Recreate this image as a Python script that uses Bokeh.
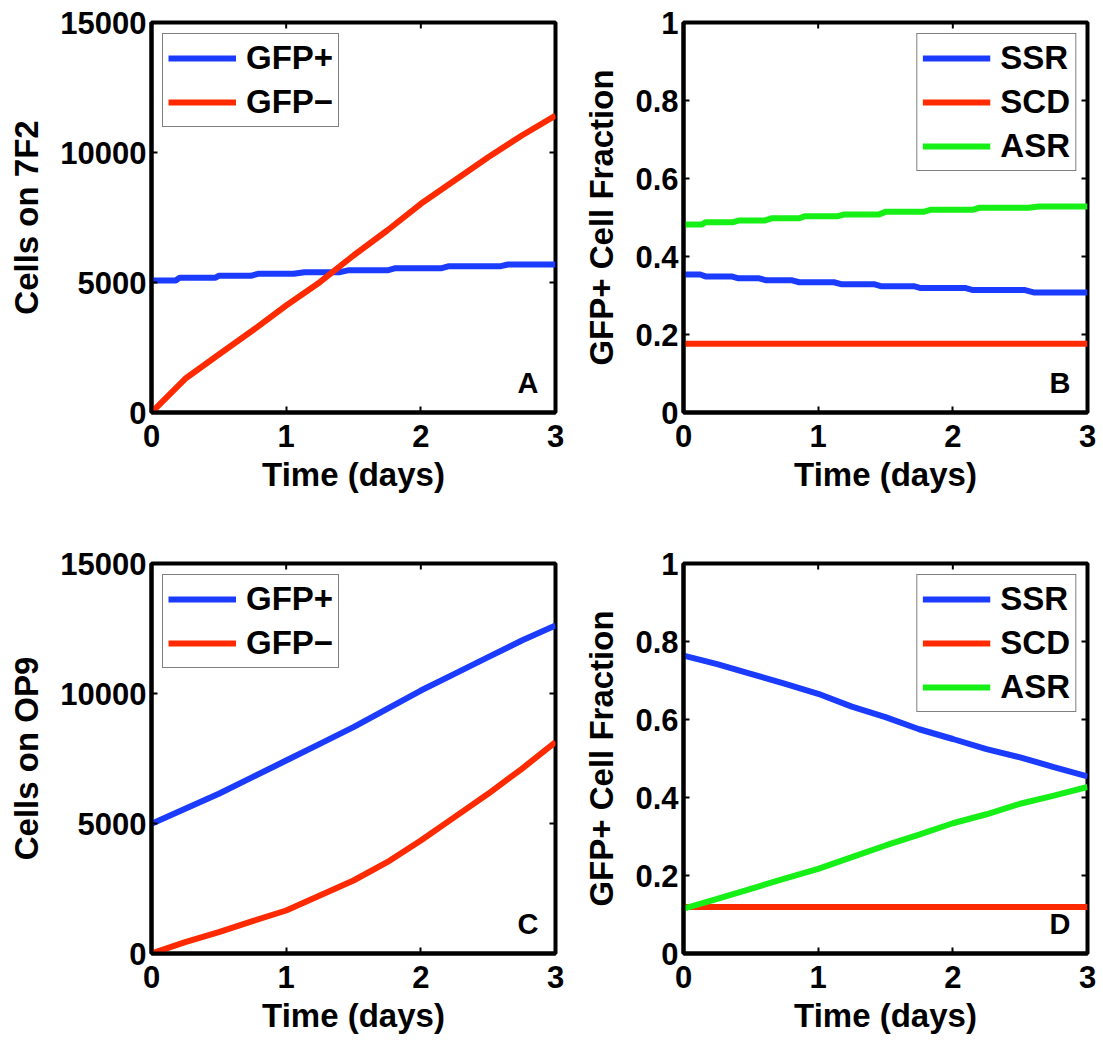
import math
from bokeh.plotting import figure
from bokeh.layouts import gridplot
from bokeh.models import Range1d, Legend, LegendItem, Label, FixedTicker
from bokeh.embed import file_html
from bokeh.resources import INLINE

FONT = "Liberation Sans"
BLUE = "#1b3bff"
RED = "#ff2a00"
GREEN = "#16f016"

# ---------------- data ----------------
x_ticks = [0, 1, 2, 3]
x_tick_labels = ["0", "1", "2", "3"]
count_ticks = [0, 5000, 10000, 15000]
count_tick_labels = ["0", "5000", "10000", "15000"]
frac_ticks = [0, 0.2, 0.4, 0.6, 0.8, 1.0]
frac_tick_labels = ["0", "0.2", "0.4", "0.6", "0.8", "1"]

# Panel A (7F2)
a_pos_t = [0, 0.18, 0.207, 0.472, 0.499, 0.737, 0.79, 1.056, 1.135, 1.40, 1.467, 1.759,
           1.812, 2.156, 2.209, 2.594, 2.647, 3.0]
a_pos = [5077, 5077, 5180, 5180, 5257, 5257, 5335, 5335, 5397, 5397, 5474, 5474,
         5551, 5551, 5628, 5628, 5692, 5692]
a_neg_t = [0, 0.25, 0.5, 0.75, 1.0, 1.25, 1.5, 1.75, 2.0, 2.25, 2.5, 2.75, 3.0]
a_neg = [0, 1296, 2231, 3154, 4115, 5013, 6038, 7000, 8026, 8923, 9820, 10654, 11423]

# Panel B (7F2 fractions)
b_ssr_t = [0, 0.124, 0.163, 0.356, 0.408, 0.562, 0.614, 0.807, 0.859, 1.117, 1.169, 1.414,
           1.465, 1.71, 1.762, 2.097, 2.149, 2.536, 2.6, 3.0]
b_ssr = [0.354, 0.354, 0.349, 0.349, 0.344, 0.344, 0.339, 0.339, 0.334, 0.334, 0.329, 0.329,
         0.324, 0.324, 0.319, 0.319, 0.314, 0.314, 0.308, 0.308]
b_scd_t = [0, 3.0]
b_scd = [0.176, 0.176]
b_asr_t = [0, 0.137, 0.163, 0.369, 0.408, 0.601, 0.653, 0.859, 0.898, 1.143, 1.194, 1.452,
           1.504, 1.788, 1.839, 2.149, 2.2, 2.561, 2.639, 3.0]
b_asr = [0.482, 0.482, 0.488, 0.488, 0.492, 0.492, 0.498, 0.498, 0.503, 0.503, 0.508, 0.508,
         0.515, 0.515, 0.520, 0.520, 0.525, 0.525, 0.528, 0.528]

# Panel C (OP9)
c_t = [0, 0.25, 0.5, 0.75, 1.0, 1.25, 1.5, 1.75, 2.0, 2.25, 2.5, 2.75, 3.0]
c_pos = [4988, 5565, 6142, 6782, 7423, 8064, 8705, 9410, 10115, 10756, 11397, 12038, 12615]
c_neg = [0, 436, 820, 1244, 1654, 2231, 2808, 3513, 4346, 5244, 6142, 7104, 8128]

# Panel D (OP9 fractions)
d_t = [0, 0.25, 0.5, 0.75, 1.0, 1.25, 1.5, 1.75, 2.0, 2.25, 2.5, 2.75, 3.0]
d_ssr = [0.764, 0.742, 0.717, 0.692, 0.666, 0.633, 0.606, 0.575, 0.550, 0.524, 0.503, 0.478, 0.454]
d_scd_t = [0, 3.0]
d_scd = [0.119, 0.119]
d_asr = [0.115, 0.140, 0.166, 0.192, 0.217, 0.247, 0.277, 0.305, 0.334, 0.357, 0.384, 0.405, 0.427]

xlabel = "Time (days)"
panel_letters = ["A", "B", "C", "D"]


def style_axis(ax):
    ax.axis_line_width = 4
    ax.axis_line_color = "black"
    ax.major_tick_in = 6
    ax.major_tick_out = 0
    ax.major_tick_line_width = 2
    ax.major_tick_line_color = "black"
    ax.minor_tick_line_color = None
    ax.major_label_text_font = FONT
    ax.major_label_text_font_style = "bold"
    ax.major_label_text_font_size = "31px"
    ax.major_label_text_color = "black"
    ax.axis_label_text_font = FONT
    ax.axis_label_text_font_style = "bold"
    ax.axis_label_text_font_size = "33px"
    ax.axis_label_text_color = "black"


def make_panel(ylabel, yr, yticks, ytick_labels, series, letter, legend_loc, borders):
    left, right, top, bottom = borders
    p = figure(frame_width=404, frame_height=390,
               x_range=Range1d(0, 3), y_range=Range1d(*yr),
               output_backend="svg", toolbar_location=None,
               min_border_left=left, min_border_right=right,
               min_border_top=top, min_border_bottom=bottom)
    p.xgrid.visible = False
    p.ygrid.visible = False
    p.outline_line_color = "black"
    p.outline_line_width = 4
    p.outline_line_alpha = 1
    p.background_fill_color = "white"
    p.border_fill_color = "white"

    p.xaxis.ticker = FixedTicker(ticks=x_ticks)
    p.xaxis.major_label_overrides = dict(zip(x_ticks, x_tick_labels))
    p.yaxis.ticker = FixedTicker(ticks=yticks)
    p.yaxis.major_label_overrides = dict(zip(yticks, ytick_labels))
    p.xaxis.axis_label = xlabel
    p.yaxis.axis_label = ylabel
    style_axis(p.xaxis[0])
    style_axis(p.yaxis[0])
    p.xaxis.major_label_standoff = 12
    p.xaxis.axis_label_standoff = 6
    p.yaxis.major_label_standoff = 5
    p.yaxis.axis_label_standoff = 12

    # mirrored inward ticks on top and right edges (box on)
    p.ray(x=x_ticks, y=[yr[1]] * len(x_ticks), length=6, length_units="screen",
          angle=-math.pi / 2, line_color="black", line_width=2)
    p.ray(x=[x_ticks[-1]] * len(yticks), y=yticks, length=6, length_units="screen",
          angle=math.pi, line_color="black", line_width=2)

    items = []
    for name, xs, ys, color in series:
        r = p.line(xs, ys, line_color=color, line_width=6)
        items.append(LegendItem(label=name, renderers=[r]))

    legend = Legend(items=items, location=legend_loc,
                    border_line_color="black", border_line_width=1,
                    background_fill_color="white", background_fill_alpha=1,
                    margin=11, padding=5, spacing=6,
                    glyph_width=68, glyph_height=30, label_height=30,
                    label_standoff=10,
                    label_text_font=FONT, label_text_font_style="bold",
                    label_text_font_size="33px", label_text_color="black")
    p.add_layout(legend)

    p.add_layout(Label(x=3, y=yr[0], x_offset=-17, y_offset=14, text=letter,
                       text_align="right", text_baseline="bottom",
                       text_font=FONT, text_font_style="bold",
                       text_font_size="29px", text_color="black"))
    return p


pa = make_panel("Cells on 7F2", (0, 15000), count_ticks, count_tick_labels,
                [("GFP+", a_pos_t, a_pos, BLUE), ("GFP\u2212", a_neg_t, a_neg, RED)],
                panel_letters[0], "top_left", (151, 16, 22, 100))
pb = make_panel("GFP+ Cell Fraction", (0, 1), frac_ticks, frac_tick_labels,
                [("SSR", b_ssr_t, b_ssr, BLUE), ("SCD", b_scd_t, b_scd, RED),
                 ("ASR", b_asr_t, b_asr, GREEN)],
                panel_letters[1], "top_right", (112, 16, 22, 100))
pc = make_panel("Cells on OP9", (0, 15000), count_ticks, count_tick_labels,
                [("GFP+", c_t, c_pos, BLUE), ("GFP\u2212", c_t, c_neg, RED)],
                panel_letters[2], "top_left", (151, 16, 51, 85))
pd = make_panel("GFP+ Cell Fraction", (0, 1), frac_ticks, frac_tick_labels,
                [("SSR", d_t, d_ssr, BLUE), ("SCD", d_scd_t, d_scd, RED),
                 ("ASR", d_t, d_asr, GREEN)],
                panel_letters[3], "top_right", (112, 16, 51, 85))

grid = gridplot([[pa, pb], [pc, pd]], toolbar_location=None)

open("out.html", "w").write(file_html(grid, INLINE))
